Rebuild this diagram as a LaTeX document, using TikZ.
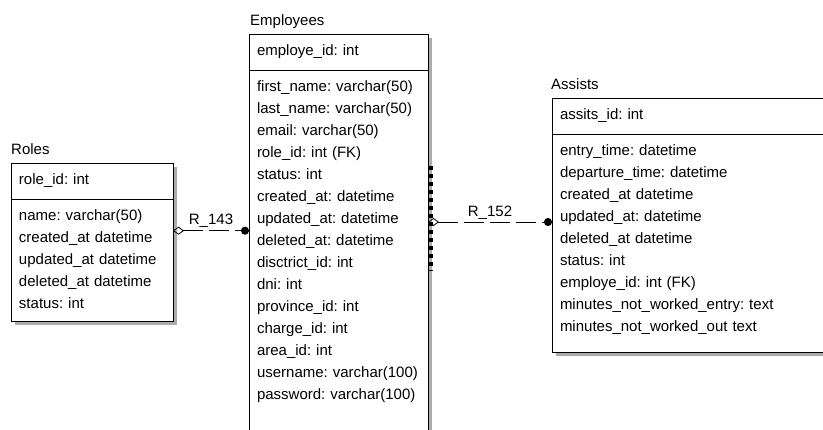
\documentclass[tikz,border=0pt]{standalone}
\usepackage{fontspec}
\setmainfont{Liberation Sans}
\usetikzlibrary{positioning,arrows.meta,backgrounds}
\newcommand{\tblfont}{\fontsize{15pt}{22pt}\selectfont\frenchspacing\hyphenpenalty=10000\relax}

\begin{document}
\begin{tikzpicture}[x=1pt, y=1pt, node distance=0pt, font=\tblfont,
  tblhead/.style={rectangle, draw, line width=0.9pt, fill=white, outer sep=0pt, inner xsep=8pt, inner ysep=0pt, text width=#1, align=left, minimum height=36pt},
  tblbody/.style={rectangle, draw, line width=0.9pt, fill=white, outer sep=0pt, inner xsep=8pt, inner ysep=0pt, text width=#1, align=left, text height=21pt},
  tbltitle/.style={inner sep=0pt, anchor=base west},
  tblshade/.style={fill=gray!65},
  rel/.style={line width=0.8pt, dash pattern=on 20pt off 6pt, {Diamond[open,length=11pt,width=8pt]}-{Circle[length=8pt]}},
  selmark/.style={line width=4pt, dash pattern=on 4pt off 4pt}]

    \useasboundingbox (0,0) rectangle (823,-429);
    \clip (0,0) rectangle (823,-429);

    % Roles
    \node[tblhead=146pt, anchor=north west] (roleshead) at (11,-163) {role\_id: int};
    \node[tblbody=146pt, text depth=101pt, below=of roleshead] (rolesbody) {name: varchar(50)\\ created\_at datetime\\ updated\_at datetime\\ deleted\_at datetime\\ status: int};
    \node[tbltitle] (rolestitle) at ([yshift=8.5pt]roleshead.north west) {Roles};

    % Employees
    \node[tblhead=163pt, anchor=north west] (emphead) at (249,-34) {employe\_id: int};
    \node[tblbody=163pt, text depth=400pt, below=of emphead] (empbody) {first\_name: varchar(50)\\ last\_name: varchar(50)\\ email: varchar(50)\\ role\_id: int (FK)\\ status: int\\ created\_at: datetime\\ updated\_at: datetime\\ deleted\_at: datetime\\ disctrict\_id: int\\ dni: int\\ province\_id: int\\ charge\_id: int\\ area\_id: int\\ username: varchar(100)\\ password: varchar(100)};
    \node[tbltitle] (emptitle) at ([xshift=1pt,yshift=9pt]emphead.north west) {Employees};

    % Assists
    \node[tblhead=274pt, anchor=north west] (assistshead) at (552,-98) {assits\_id: int};
    \node[tblbody=274pt, text depth=197pt, below=of assistshead] (assistsbody) {entry\_time: datetime\\ departure\_time: datetime\\ created\_at datetime\\ updated\_at: datetime\\ deleted\_at datetime\\ status: int\\ employe\_id: int (FK)\\ minutes\_not\_worked\_entry: text\\ minutes\_not\_worked\_out text};
    \node[tbltitle] (assiststitle) at ([xshift=-1pt,yshift=9pt]assistshead.north west) {Assists};

    % shadows
    \begin{scope}[on background layer]
      \foreach \h/\b in {roleshead/rolesbody, emphead/empbody, assistshead/assistsbody}
        \fill[tblshade] ([shift={(4,-4)}]\h.north west) rectangle ([shift={(4,-4)}]\b.south east);
    \end{scope}

    \draw[selmark] ([xshift=2.5pt,yshift=-96pt]empbody.north east) -- ++(0,-105);

    \coordinate (r143) at ([yshift=29.3pt]rolesbody.east);
    \coordinate (r152) at ([yshift=21pt]assistsbody.west);
    \draw[rel] (r143) -- node[above, inner sep=3pt] {R\_143} (r143 -| empbody.west);
    \draw[rel] (r152 -| empbody.east) -- node[above, inner sep=2.5pt] {R\_152} (r152);

\end{tikzpicture}
\end{document}
